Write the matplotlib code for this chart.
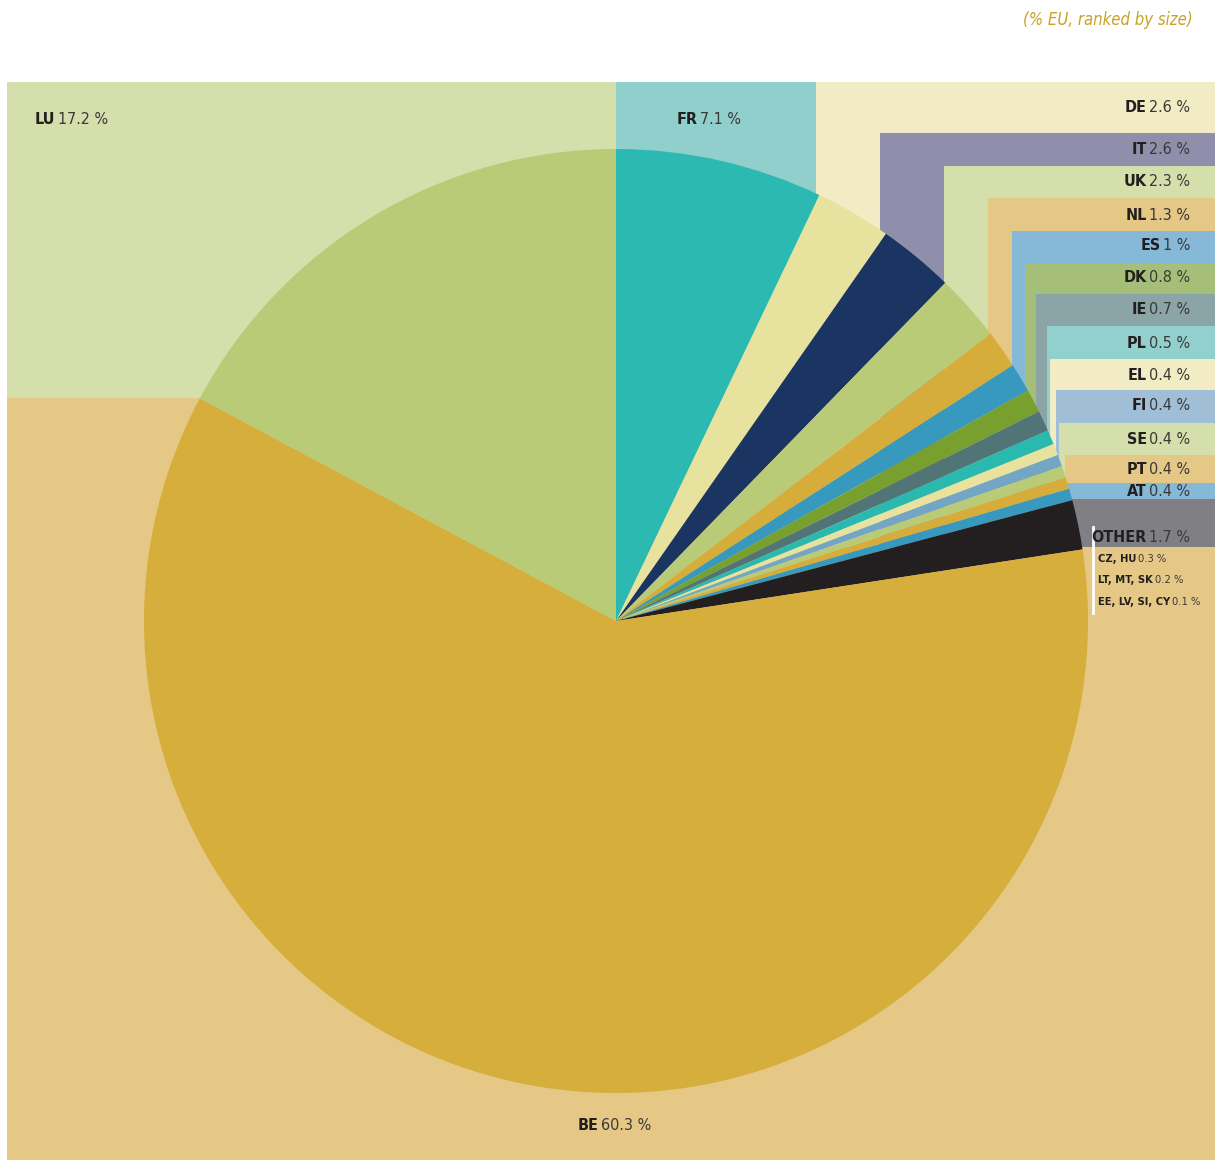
import matplotlib
matplotlib.use('Agg')
import matplotlib.pyplot as plt
from matplotlib.patches import Rectangle
from matplotlib import font_manager

# data, clockwise from 12 o'clock
countries = ['FR', 'DE', 'IT', 'UK', 'NL', 'ES', 'DK', 'IE', 'PL', 'EL',
             'FI', 'SE', 'PT', 'AT', 'OTHER', 'BE', 'LU']
shares = [7.1, 2.6, 2.6, 2.3, 1.3, 1, 0.8, 0.7, 0.5, 0.4,
          0.4, 0.4, 0.4, 0.4, 1.7, 60.3, 17.2]
slice_colors = ['#2cb9b2', '#e8e29f', '#1b3563', '#b9cb77', '#d6ad3b', '#3799be',
                '#78a02f', '#517577', '#2ab9af', '#e8e29f', '#73a6c5', '#b9cb77',
                '#d6ad3b', '#3799be', '#231f20', '#d6ae3b', '#b9cb77']
box_colors = ['#91cfcc', '#f1ecc4', '#8f8fab', '#d5dfab', '#e5c885', '#86b9d7',
              '#a5bf79', '#8ba4a6', '#91d0cc', '#f1ecc4', '#a0bfd6', '#d5dfab',
              '#e5c885', '#86b9d7', '#808084', '#e5c885', '#d5dfab']
other_codes = ['CZ, HU', 'LT, MT, SK', 'EE, LV, SI, CY']
other_shares = [0.3, 0.2, 0.1]
title = '(% EU, ranked by size)'

W, H = 1215, 1160


def fmt(v):
    return ('%g' % v) + ' %'


# look for a condensed face, the original uses a condensed sans
STRETCH = 'normal'
FONT = ['Roboto', 'DejaVu Sans']
files = [f.fname for f in font_manager.fontManager.ttflist]
if any('LiberationSansNarrow' in f for f in files):
    FONT = ['Liberation Sans Narrow', 'DejaVu Sans']
else:
    p = font_manager.findfont(font_manager.FontProperties(family='DejaVu Sans', stretch='condensed'))
    if 'Condensed' in p:
        FONT = ['DejaVu Sans']
        STRETCH = 'condensed'
plt.rcParams['font.family'] = FONT
plt.rcParams['font.stretch'] = STRETCH

fig = plt.figure(figsize=(W / 100, H / 100), dpi=100)
ax = fig.add_axes([0, 0, 1, 1])

# background boxes (image pixel coords: left, top, right, bottom)
def box(x0, y0, x1, y1, c):
    ax.add_patch(Rectangle((x0, H - y1), x1 - x0, y1 - y0, facecolor=c, lw=0, zorder=0))

idx = {c: i for i, c in enumerate(countries)}
box(7, 82, 616, 398, box_colors[idx['LU']])
box(7, 398, W, H, box_colors[idx['BE']])
box(616, 82, 816, 400, box_colors[idx['FR']])

stair = ['DE', 'IT', 'UK', 'NL', 'ES', 'DK', 'IE', 'PL', 'EL', 'FI', 'SE', 'PT', 'AT', 'OTHER']
stair_left = [816, 880, 944, 988, 1012, 1025, 1036, 1047, 1050, 1056, 1059, 1065, 1067, 1072]
stair_top = [82, 133, 166, 198, 231, 263, 294, 326, 359, 390, 423, 455, 483, 499]
for c, x0, y0 in zip(stair, stair_left, stair_top):
    box(x0, y0, W, 547, box_colors[idx[c]])

# the pie
cx, cy, r = 616, 621, 472
ax.pie(shares, colors=slice_colors, startangle=90, counterclock=False,
       center=(cx, H - cy), radius=r, wedgeprops=dict(linewidth=0))

ax.set_xlim(0, W)
ax.set_ylim(0, H)
ax.set_aspect('auto')
ax.axis('off')

DARK = '#231f20'
VAL = '#3b3838'
SIZE = 11.5 if STRETCH == 'condensed' or 'Narrow' in FONT[0] else 11


def label(x, y, code, value, size=SIZE, align='left'):
    if align == 'left':
        t = ax.text(x, H - y, code, fontsize=size, fontweight='bold', color=DARK,
                    ha='left', va='center', zorder=5)
        ax.annotate(value, xy=(1, 0), xycoords=t, xytext=(1.5, 0), textcoords='offset points',
                    fontsize=size, color=VAL, ha='left', va='bottom', zorder=5)
    else:
        t = ax.text(x, H - y, value, fontsize=size, color=VAL, ha='right', va='center', zorder=5)
        ax.annotate(code, xy=(0, 0), xycoords=t, xytext=(-1.5, 0), textcoords='offset points',
                    fontsize=size, fontweight='bold', color=DARK, ha='right', va='bottom', zorder=5)


label(35, 119, 'LU', fmt(shares[idx['LU']]))
label(677, 119, 'FR', fmt(shares[idx['FR']]))
label(578, 1126, 'BE', fmt(shares[idx['BE']]))

right_y = [108, 150, 182, 215, 246, 278, 309, 343, 375, 406, 439, 469, 491, 537]
for c, y in zip(stair, right_y):
    label(1190, y, c, fmt(shares[idx[c]]), align='right')

for code, v, y in zip(other_codes, other_shares, [559, 580, 602]):
    label(1098, y, code, fmt(v), size=SIZE * 0.7)

ax.plot([1093, 1093], [H - 527, H - 613], color='white', lw=2, zorder=4)

ax.text(1193, H - 20, title, fontsize=SIZE + 0.5, style='italic', color='#c9a227',
        ha='right', va='center')

fig.savefig('out.png', dpi=100)
